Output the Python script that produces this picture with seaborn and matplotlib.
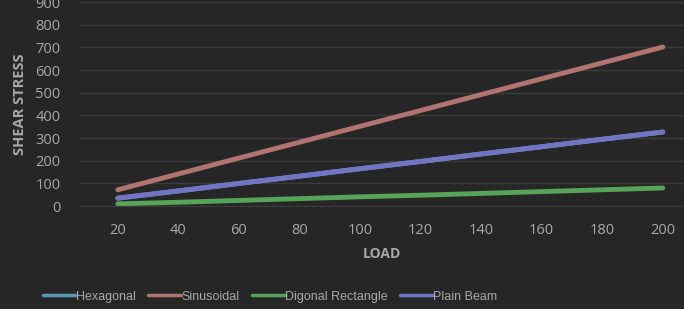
import numpy as np
import pandas as pd
import matplotlib.pyplot as plt
import seaborn as sns

load = [20, 40, 60, 80, 100, 120, 140, 160, 180, 200]
hexagonal = [35, 67, 100, 132, 165, 197, 230, 262, 295, 327]
sinusoidal = [72, 142, 212, 282, 352, 422, 492, 562, 632, 702]
digonal_rect = [10, 17, 25, 33, 41, 48, 56, 64, 72, 80]
plain_beam = [35, 67, 100, 132, 165, 197, 230, 262, 295, 327]

series = ["Hexagonal", "Sinusoidal", "Digonal Rectangle", "Plain Beam"]
colors = ["#5a9ab8", "#b27470", "#55a457", "#7474c4"]

df = pd.DataFrame({
    "load": load * 4,
    "stress": hexagonal + sinusoidal + digonal_rect + plain_beam,
    "shape": sum([[s] * len(load) for s in series], []),
})

bg = "#262626"
txt = "#a8a8a8"
sns.set_style("dark")
plt.rcParams["font.family"] = ["Open Sans", "DejaVu Sans"]

fig = plt.figure(figsize=(6.84, 3.09), dpi=100, facecolor=bg)
ax = fig.add_axes([80 / 684, 0.333, 604 / 684, 0.66])
ax.set_facecolor(bg)

sns.lineplot(data=df, x="load", y="stress", hue="shape", hue_order=series,
             palette=colors, linewidth=3.5, ax=ax, legend=True)

ax.set_xlim(7.5, 207)
ax.set_ylim(0, 900)
ax.set_xticks(load)
ax.set_yticks(range(0, 901, 100))
ax.yaxis.grid(True, color="#3c3c3c", linewidth=1)
ax.xaxis.grid(False)
for s in ax.spines.values():
    s.set_visible(False)
ax.spines["bottom"].set_visible(True)
ax.spines["bottom"].set_color("#3c3c3c")
ax.tick_params(colors=txt, labelsize=10.5, length=0, pad=12)
ax.tick_params(axis="y", pad=14)
ax.set_xlabel("LOAD", color=txt, fontsize=10, fontweight="bold", labelpad=7)
ax.set_ylabel("SHEAR STRESS", color=txt, fontsize=10.5, fontweight="bold", labelpad=6)

ax.legend_.remove()
handles, labels = ax.get_legend_handles_labels()
for h in handles:
    h.set_linewidth(2.5)
leg = fig.legend(handles, labels, loc="center", bbox_to_anchor=(0.395, 0.04),
                 ncol=4, frameon=False, handlelength=2.6, handletextpad=0.05,
                 columnspacing=1.0, prop={"family": ["Liberation Sans", "DejaVu Sans"], "size": 9})
for t in leg.get_texts():
    t.set_color(txt)

fig.savefig("out.png", dpi=100, facecolor=bg)
